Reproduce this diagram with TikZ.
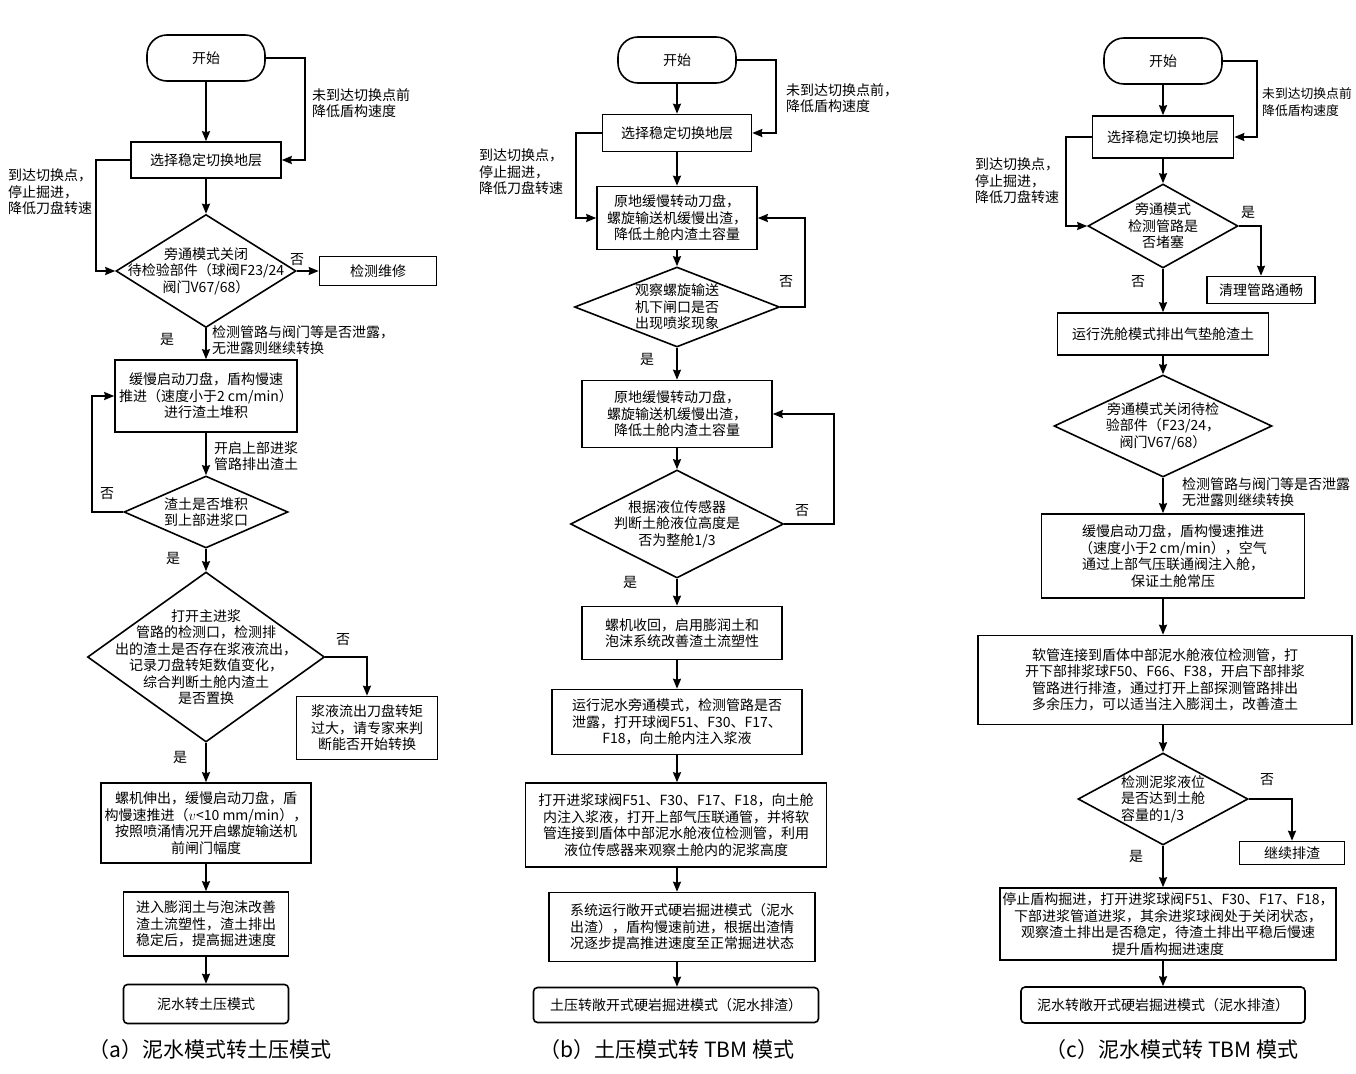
\documentclass[tikz,border=0pt]{standalone}
\usepackage{fontspec}
\setmainfont{Noto Sans CJK SC}
\usepackage{tikz}
\usetikzlibrary{shapes.geometric,arrows.meta}
\newcommand{\nsz}{\fontsize{14}{16.5}\selectfont}
\newcommand{\ssz}{\fontsize{12.8}{16.5}\selectfont}
\newcommand{\capsz}{\fontsize{21}{24}\selectfont}
\begin{document}
\begin{tikzpicture}[x=1pt, y=-1pt,
	term/.style={draw, line width=1.6pt, rounded corners=20pt, minimum width=118pt, minimum height=46pt, font=\nsz},
	box/.style={draw, line width=1.6pt, align=center, font=\nsz, inner sep=2pt},
	endbox/.style={box, rounded corners=4pt},
	dec/.style={draw, diamond, line width=1.6pt, inner sep=0pt},
	dtext/.style={align=center, font=\nsz, inner sep=0pt},
	note/.style={align=left, font=\nsz, inner sep=0pt, anchor=west},
	lab/.style={font=\nsz, inner sep=0pt},
	captext/.style={font=\capsz, inner sep=0pt},
	flow/.style={-{Stealth[length=10pt, width=8pt, inset=1pt]}, line width=1.8pt}]
	\path[use as bounding box, fill=white] (0,0) rectangle (1356,1073);

				\node[term] (sa)at(206, 58) {开始};
				\node[box, minimum width=150pt, minimum height=36pt] (ba1)at(206, 160) {选择稳定切换地层};
				\node[dec, minimum width=180pt, minimum height=113pt, label={[dtext]center:{旁通模式关闭\\待检验部件（球阀F23/24\\阀门V67/68）}}] (da1)at(206, 271) {};
				\node[box, minimum width=117pt, minimum height=29pt] (ra1)at(378, 271) {检测维修};
				\node[box, minimum width=182pt, minimum height=72pt] (ba2)at(206, 396) {缓慢启动刀盘，盾构慢速\\推进（速度小于2 cm/min）\\进行渣土堆积};
				\node[dec, minimum width=164pt, minimum height=72pt, label={[dtext]center:{渣土是否堆积\\到上部进浆口}}] (da2)at(206, 512) {};
				\node[dec, minimum width=237pt, minimum height=170pt, label={[dtext]center:{打开主进浆\\管路的检测口，检测排\\出的渣土是否存在浆液流出，\\记录刀盘转矩数值变化，\\综合判断土舱内渣土\\是否置换}}] (da3)at(206, 657) {};
				\node[box, minimum width=141pt, minimum height=63pt] (ra3)at(367, 728) {浆液流出刀盘转矩\\过大，请专家来判\\断能否开始转换};
				\node[box, minimum width=210pt, minimum height=80pt] (ba3)at(206, 823) {螺机伸出，缓慢启动刀盘，盾\\构慢速推进（$v$<10 mm/min），\\按照喷涌情况开启螺旋输送机\\前闸门幅度};
				\node[box, minimum width=165pt, minimum height=64pt] (ba4)at(206, 924) {进入膨润土与泡沫改善\\渣土流塑性，渣土排出\\稳定后，提高掘进速度};
				\node[endbox, minimum width=165pt, minimum height=39pt] (ea)at(206, 1004) {泥水转土压模式};
				\node[captext] (capa)at(210, 1050) {（a）泥水模式转土压模式};

				\node[note] (ta1)at(312, 103) {未到达切换点前\\降低盾构速度};
				\node[note] (ta2)at(8, 192) {到达切换点，\\停止掘进，\\降低刀盘转速};
				\node[note] (ta3)at(212, 340) {检测管路与阀门等是否泄露，\\无泄露则继续转换};
				\node[note] (ta4)at(214, 456) {开启上部进浆\\管路排出渣土};
				\node[lab] (na1)at(297, 260) {否};
				\node[lab] (ya1)at(167, 339) {是};
				\node[lab] (na2)at(107, 494) {否};
				\node[lab] (ya2)at(173, 558) {是};
				\node[lab] (na3)at(343, 640) {否};
				\node[lab] (ya3)at(180, 757) {是};

				\draw[flow] (sa.south) -- (ba1.north);
				\draw[flow] (sa.east) -- ++(39,0) |- (ba1.east);
				\draw[flow] (ba1.west) -- ++(-34,0) |- (da1.west);
				\draw[flow] (ba1.south) -- (da1.north);
				\draw[flow] (da1.east) -- (ra1.west);
				\draw[flow] (da1.south) -- (ba2.north);
				\draw[flow] (ba2.south) -- (da2.north);
				\draw[flow] (da2.west) -- ++(-31,0) |- (ba2.west);
				\draw[flow] (da2.south) -- (da3.north);
				\draw[flow] (da3.east) -| (ra3.north);
				\draw[flow] (da3.south) -- (ba3.north);
				\draw[flow] (ba3.south) -- (ba4.north);
				\draw[flow] (ba4.south) -- (ea.north);

				\node[term] (sb)at(677, 60) {开始};
				\node[box, minimum width=149pt, minimum height=37pt] (bb1)at(677, 133) {选择稳定切换地层};
				\node[box, minimum width=160pt, minimum height=63pt] (bb2)at(677, 218) {原地缓慢转动刀盘，\\螺旋输送机缓慢出渣，\\降低土舱内渣土容量};
				\node[dec, minimum width=205pt, minimum height=80pt, label={[dtext]center:{观察螺旋输送\\机下闸口是否\\出现喷浆现象}}] (db1)at(677, 307) {};
				\node[box, minimum width=190pt, minimum height=67pt] (bb3)at(677, 414) {原地缓慢转动刀盘，\\螺旋输送机缓慢出渣，\\降低土舱内渣土容量};
				\node[dec, minimum width=213pt, minimum height=108pt, label={[dtext]center:{根据液位传感器\\判断土舱液位高度是\\否为整舱1/3}}] (db2)at(677, 524) {};
				\node[box, minimum width=200pt, minimum height=53pt] (bb4)at(682, 633) {螺机收回，启用膨润土和\\泡沫系统改善渣土流塑性};
				\node[box, minimum width=250pt, minimum height=65pt] (bb5)at(677, 722) {运行泥水旁通模式，检测管路是否\\泄露，打开球阀F51、F30、F17、\\F18，向土舱内注入浆液};
				\node[box, minimum width=301pt, minimum height=84pt] (bb6)at(676, 825) {打开进浆球阀F51、F30、F17、F18，向土舱\\内注入浆液，打开上部气压联通管，并将软\\管连接到盾体中部泥水舱液位检测管，利用\\液位传感器来观察土舱内的泥浆高度};
				\node[box, minimum width=266pt, minimum height=69pt] (bb7)at(682, 927) {系统运行敞开式硬岩掘进模式（泥水\\出渣），盾构慢速前进，根据出渣情\\况逐步提高推进速度至正常掘进状态};
				\node[endbox, minimum width=285pt, minimum height=35pt] (eb)at(676, 1005) {土压转敞开式硬岩掘进模式（泥水排渣）};
				\node[captext] (capb)at(667, 1050) {（b）土压模式转 TBM 模式};

				\node[note] (tb1)at(786, 98) {未到达切换点前，\\降低盾构速度};
				\node[note] (tb2)at(479, 172) {到达切换点，\\停止掘进，\\降低刀盘转速};
				\node[lab] (nb1)at(786, 282) {否};
				\node[lab] (yb1)at(647, 359) {是};
				\node[lab] (nb2)at(802, 511) {否};
				\node[lab] (yb2)at(630, 582) {是};

				\draw[flow] (sb.south) -- (bb1.north);
				\draw[flow] (sb.east) -- ++(39,0) |- (bb1.east);
				\draw[flow] (bb1.west) -- ++(-26,0) |- (bb2.west);
				\draw[flow] (bb1.south) -- (bb2.north);
				\draw[flow] (bb2.south) -- (db1.north);
				\draw[flow] (db1.east) -- ++(25,0) |- (bb2.east);
				\draw[flow] (db1.south) -- (bb3.north);
				\draw[flow] (bb3.south) -- (db2.north);
				\draw[flow] (db2.east) -- ++(50,0) |- (bb3.east);
				\draw[flow] (db2.south) -- (db2.south |- bb4.north);
				\draw[flow] (db2.south |- bb4.south) -- (bb5.north);
				\draw[flow] (bb5.south) -- (bb5.south |- bb6.north);
				\draw[flow] (bb5.south |- bb6.south) -- (bb5.south |- bb7.north);
				\draw[flow] (bb5.south |- bb7.south) -- (bb5.south |- eb.north);

				\node[term] (sc)at(1163, 61) {开始};
				\node[box, minimum width=141pt, minimum height=42pt] (bc1)at(1163, 137) {选择稳定切换地层};
				\node[dec, minimum width=150pt, minimum height=84pt, label={[dtext]center:{旁通模式\\检测管路是\\否堵塞}}] (dc1)at(1163, 226) {};
				\node[box, minimum width=108pt, minimum height=27pt] (rc1)at(1261, 290) {清理管路通畅};
				\node[box, minimum width=211pt, minimum height=42pt] (bc2)at(1163, 334) {运行洗舱模式排出气垫舱渣土};
				\node[dec, minimum width=218pt, minimum height=102pt, label={[dtext]center:{旁通模式关闭待检\\验部件（F23/24，\\阀门V67/68）}}] (dc2)at(1163, 426) {};
				\node[box, minimum width=263pt, minimum height=84pt] (bc3)at(1173, 556) {缓慢启动刀盘，盾构慢速推进\\（速度小于2 cm/min），空气\\通过上部气压联通阀注入舱，\\保证土舱常压};
				\node[box, minimum width=374pt, minimum height=89pt] (bc4)at(1165, 680) {软管连接到盾体中部泥水舱液位检测管，打\\开下部排浆球F50、F66、F38，开启下部排浆\\管路进行排渣，通过打开上部探测管路排出\\多余压力，可以适当注入膨润土，改善渣土};
				\node[dec, minimum width=170pt, minimum height=92pt, label={[dtext, align=left]center:{检测泥浆液位\\是否达到土舱\\容量的1/3}}] (dc3)at(1163, 799) {};
				\node[box, minimum width=105pt, minimum height=23pt] (rc3)at(1292, 853) {继续排渣};
				\node[box, minimum width=336pt, minimum height=72pt] (bc5)at(1168, 924) {停止盾构掘进，打开进浆球阀F51、F30、F17、F18，\\下部进浆管道进浆，其余进浆球阀处于关闭状态，\\观察渣土排出是否稳定，待渣土排出平稳后慢速\\提升盾构掘进速度};
				\node[endbox, minimum width=284pt, minimum height=36pt] (ec)at(1163, 1005) {泥水转敞开式硬岩掘进模式（泥水排渣）};
				\node[captext] (capc)at(1172, 1050) {（c）泥水模式转 TBM 模式};

				\node[note, font=\ssz] (tc1)at(1262, 102) {未到达切换点前\\降低盾构速度};
				\node[note] (tc2)at(975, 181) {到达切换点，\\停止掘进，\\降低刀盘转速};
				\node[note] (tc3)at(1182, 492) {检测管路与阀门等是否泄露\\无泄露则继续转换};
				\node[lab] (yc1)at(1248, 212) {是};
				\node[lab] (nc1)at(1138, 282) {否};
				\node[lab] (nc3)at(1267, 780) {否};
				\node[lab] (yc3)at(1136, 856) {是};

				\draw[flow] (sc.south) -- (bc1.north);
				\draw[flow] (sc.east) -- ++(34,0) |- (bc1.east);
				\draw[flow] (bc1.west) -- ++(-26,0) |- (dc1.west);
				\draw[flow] (bc1.south) -- (dc1.north);
				\draw[flow] (dc1.east) -| (rc1.north);
				\draw[flow] (dc1.south) -- (bc2.north);
				\draw[flow] (bc2.south) -- (dc2.north);
				\draw[flow] (dc2.south) -- (dc2.south |- bc3.north);
				\draw[flow] (dc2.south |- bc3.south) -- (dc2.south |- bc4.north);
				\draw[flow] (dc2.south |- bc4.south) -- (dc3.north);
				\draw[flow] (dc3.east) -| (rc3.north);
				\draw[flow] (dc3.south) -- (dc3.south |- bc5.north);
				\draw[flow] (dc3.south |- bc5.south) -- (ec.north);
			\end{tikzpicture}
\end{document}
